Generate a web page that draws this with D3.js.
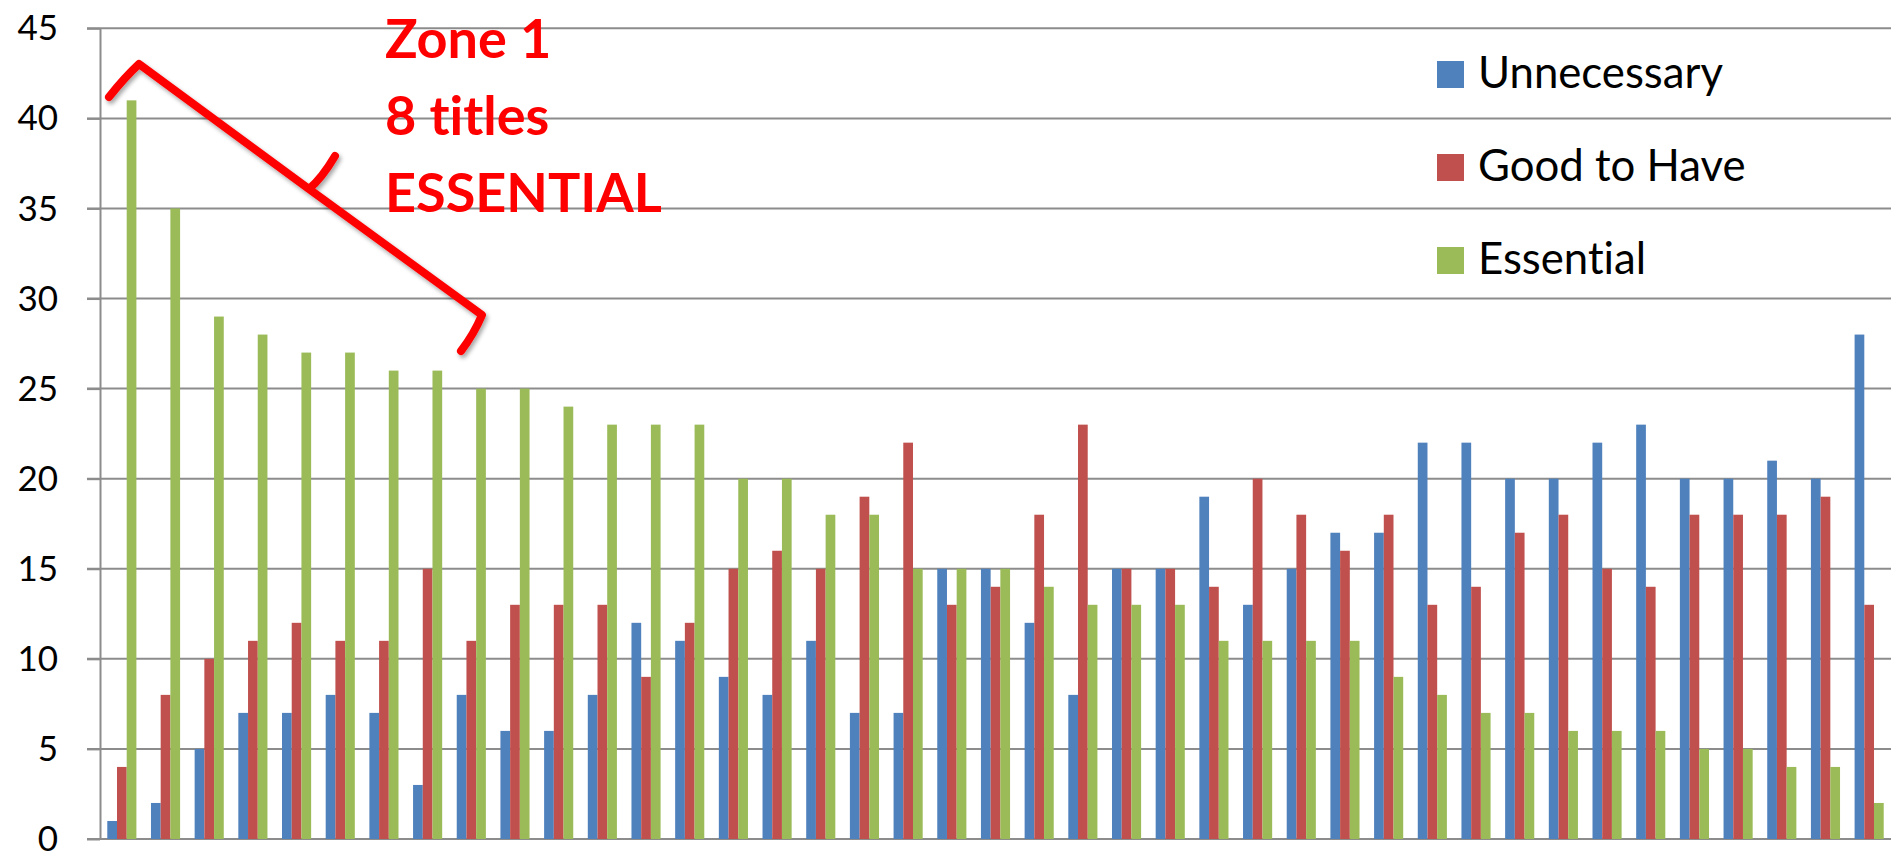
<!DOCTYPE html>
<html>
<head>
<meta charset="utf-8">
<script src="https://cdn.jsdelivr.net/npm/d3@7"></script>
<style>
  html, body { margin: 0; padding: 0; background: #fff; overflow: hidden; }
  svg { display: block; }
  text { font-variant-ligatures: none; }
</style>
</head>
<body>
<svg id="chart" width="1895" height="852"></svg>
<script>
// Ratings per title, sorted by the number of "Essential" votes
const titles = d3.range(1, 42).map(i => "Title " + i);
const seriesNames = ["Unnecessary", "Good to Have", "Essential"];
const unnecessary = [1, 2, 5, 7, 7, 8, 7, 3, 8, 6, 6, 8, 12, 11, 9, 8, 11, 7, 7, 15, 15, 12, 8, 15, 15, 19, 13, 15, 17, 17, 22, 22, 20, 20, 22, 23, 20, 20, 21, 20, 28];
const goodToHave  = [4, 8, 10, 11, 12, 11, 11, 15, 11, 13, 13, 13, 9, 12, 15, 16, 15, 19, 22, 13, 14, 18, 23, 15, 15, 14, 20, 18, 16, 18, 13, 14, 17, 18, 15, 14, 18, 18, 18, 19, 13];
const essential   = [41, 35, 29, 28, 27, 27, 26, 26, 25, 25, 24, 23, 23, 23, 20, 20, 18, 18, 15, 15, 15, 14, 13, 13, 13, 11, 11, 11, 11, 9, 8, 7, 7, 6, 6, 6, 5, 5, 4, 4, 2];
const yTicks = [0, 5, 10, 15, 20, 25, 30, 35, 40, 45];
const seriesColors = ["#4F81BD", "#C0504D", "#9BBB59"];
const noteLines = ["Zone 1", "8 titles", "ESSENTIAL"];

const seriesValues = [unnecessary, goodToHave, essential];
const rows = titles.map((t, i) => ({
  title: t,
  values: seriesNames.map((s, k) => ({ series: s, value: seriesValues[k][i] }))
}));

const svg = d3.select("#chart");
const plot = { left: 100, right: 1891, top: 28.3, bottom: 839 };
const FONT = "Lato, 'Open Sans', sans-serif";

const x0 = d3.scaleBand()
  .domain(titles)
  .range([plot.left, plot.right])
  .paddingInner(1 / 3)
  .paddingOuter(1 / 6);

const x1 = d3.scaleBand()
  .domain(seriesNames)
  .range([0, x0.bandwidth()])
  .padding(0);

const y = d3.scaleLinear()
  .domain([0, 45])
  .range([plot.bottom, plot.top]);

const color = d3.scaleOrdinal().domain(seriesNames).range(seriesColors);

// Horizontal gridlines (the zero line doubles as the category axis)
svg.append("g")
  .selectAll("line")
  .data(yTicks)
  .join("line")
  .attr("x1", plot.left - 13)
  .attr("x2", plot.right)
  .attr("y1", d => y(d))
  .attr("y2", d => y(d))
  .attr("stroke", "#8c8c8c")
  .attr("stroke-width", 2);

// Value axis with outside tick marks
const yAxis = svg.append("g")
  .attr("transform", `translate(${plot.left},0)`)
  .call(d3.axisLeft(y).tickValues(yTicks).tickSizeInner(13).tickSizeOuter(0).tickPadding(29));
yAxis.select(".domain").attr("stroke", "#8c8c8c").attr("stroke-width", 2);
yAxis.selectAll(".tick line").attr("stroke", "#8c8c8c").attr("stroke-width", 2);
yAxis.selectAll(".tick text")
  .attr("font-family", FONT)
  .attr("font-size", 35)
  .attr("fill", "#000")
  .attr("dy", "0.33em");

// Clustered bars
svg.append("g")
  .selectAll("g")
  .data(rows)
  .join("g")
  .attr("transform", d => `translate(${x0(d.title)},0)`)
  .selectAll("rect")
  .data(d => d.values)
  .join("rect")
  .attr("x", d => x1(d.series))
  .attr("width", x1.bandwidth())
  .attr("y", d => y(d.value))
  .attr("height", d => y(0) - y(d.value))
  .attr("fill", d => color(d.series));

// Legend
const legend = svg.append("g").attr("transform", "translate(1437,0)");
const legendRows = legend.selectAll("g")
  .data(seriesNames)
  .join("g")
  .attr("transform", (d, i) => `translate(0,${61 + i * 93})`);
legendRows.append("rect")
  .attr("width", 27)
  .attr("height", 27)
  .attr("fill", d => color(d));
const legendText = legendRows.append("text")
  .attr("x", 41)
  .attr("y", 27)
  .attr("font-family", FONT)
  .attr("font-size", 42)
  .attr("fill", "#000")
  .text(d => d);
{
  const w = legendText.nodes()[0].getComputedTextLength();
  if (w > 0) legendText.attr("font-size", 42 * 245 / w);
}

// Brace marking the leading group of titles
const defs = svg.append("defs");
const shadow = defs.append("filter")
  .attr("id", "brace-shadow")
  .attr("x", "-20%").attr("y", "-20%")
  .attr("width", "140%").attr("height", "140%");
shadow.append("feDropShadow")
  .attr("dx", 2).attr("dy", 3)
  .attr("stdDeviation", 2.2)
  .attr("flood-color", "#000")
  .attr("flood-opacity", 0.35);

const brace = d3.path();
brace.moveTo(109, 97);
brace.quadraticCurveTo(124, 78, 139, 64);
brace.lineTo(309, 189);
brace.quadraticCurveTo(322, 178, 335, 156);
brace.moveTo(309, 189);
brace.lineTo(482, 315);
brace.quadraticCurveTo(474, 334, 461, 351);

svg.append("path")
  .attr("d", brace.toString())
  .attr("fill", "none")
  .attr("stroke", "#FF0000")
  .attr("stroke-width", 8)
  .attr("stroke-linecap", "round")
  .attr("stroke-linejoin", "round")
  .attr("filter", "url(#brace-shadow)");

// Annotation text
const note = svg.append("g");
const noteText = note.selectAll("text")
  .data(noteLines)
  .join("text")
  .attr("x", 385)
  .attr("y", (d, i) => 58 + i * 77)
  .attr("font-family", FONT)
  .attr("font-weight", "bold")
  .attr("font-size", 56)
  .attr("fill", "#FF0000")
  .text(d => d);
{
  const w = noteText.nodes()[2].getComputedTextLength();
  if (w > 0) noteText.attr("font-size", 56 * 277 / w);
}
</script>
</body>
</html>
